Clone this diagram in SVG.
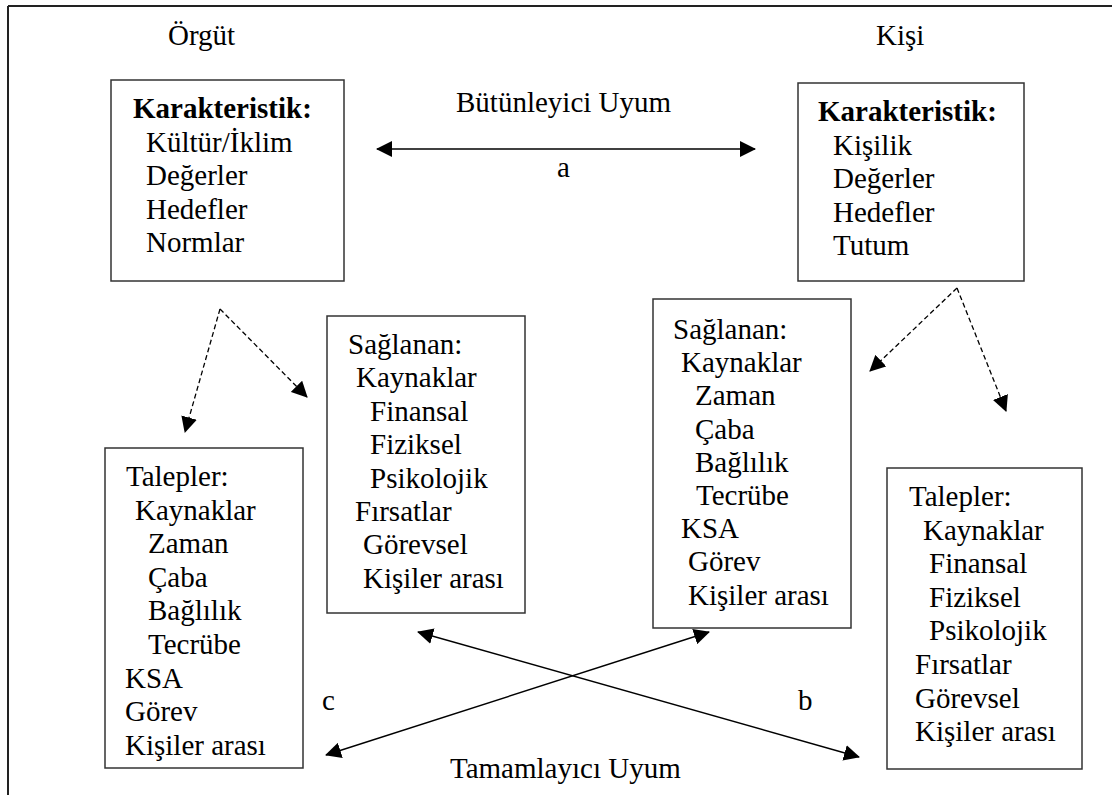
<svg xmlns="http://www.w3.org/2000/svg" width="1112" height="795" viewBox="0 0 1112 795" font-family="'Liberation Serif', 'Times New Roman', Tinos, 'DejaVu Serif', serif" font-size="29">
<style>
text{font-family:"Liberation Serif","Times New Roman",Tinos,"DejaVu Serif",serif;font-size:29px;fill:#000}
.b{font-weight:bold}
.box{fill:#fff;stroke:#333;stroke-width:1.5}
.ln{stroke:#000;stroke-width:1.4;fill:none}
.dash{stroke:#000;stroke-width:1.3;fill:none;stroke-dasharray:5 3}
</style>
<defs>
<marker id="ah" viewBox="0 0 16 16" refX="15" refY="8" markerWidth="16" markerHeight="16" markerUnits="userSpaceOnUse" orient="auto-start-reverse">
<path d="M0,0 L16,8 L0,16 z" fill="#000"/>
</marker>
</defs>
<g id="frame">
<line x1="8" y1="6" x2="1112" y2="6" stroke="#222" stroke-width="2"/>
<line x1="8" y1="6" x2="8" y2="795" stroke="#222" stroke-width="2"/>
</g>
<g id="labels">
<text x="168" y="45">Örgüt</text>
<text x="876" y="45">Kişi</text>
<text x="456" y="112">Bütünleyici Uyum</text>
<text x="557" y="177">a</text>
<text x="798" y="710">b</text>
<text x="322" y="710">c</text>
<text x="450" y="778">Tamamlayıcı Uyum</text>
</g>
<g id="org-karakteristik">
<rect class="box" x="111" y="80" width="233" height="201"/>
<text class="b" x="133" y="118">Karakteristik:</text>
<text x="146" y="151.5">Kültür/İklim</text>
<text x="146" y="185">Değerler</text>
<text x="146" y="218.5">Hedefler</text>
<text x="146" y="252">Normlar</text>
</g>
<g id="kisi-karakteristik">
<rect class="box" x="798" y="83" width="226" height="198"/>
<text class="b" x="818" y="121">Karakteristik:</text>
<text x="833" y="154.5">Kişilik</text>
<text x="833" y="188">Değerler</text>
<text x="833" y="221.5">Hedefler</text>
<text x="833" y="255">Tutum</text>
</g>
<g id="org-saglanan">
<rect class="box" x="327" y="316" width="198" height="297"/>
<text x="348" y="354">Sağlanan:</text>
<text x="356" y="387.4">Kaynaklar</text>
<text x="370" y="420.8">Finansal</text>
<text x="370" y="454.2">Fiziksel</text>
<text x="370" y="487.6">Psikolojik</text>
<text x="355" y="521">Fırsatlar</text>
<text x="363" y="554.4">Görevsel</text>
<text x="363" y="587.8">Kişiler arası</text>
</g>
<g id="kisi-saglanan">
<rect class="box" x="653" y="299" width="198" height="329"/>
<text x="673" y="339">Sağlanan:</text>
<text x="681" y="372.2">Kaynaklar</text>
<text x="695" y="405.4">Zaman</text>
<text x="695" y="438.6">Çaba</text>
<text x="695" y="471.8">Bağlılık</text>
<text x="696" y="505">Tecrübe</text>
<text x="681" y="538.2">KSA</text>
<text x="688" y="571.4">Görev</text>
<text x="688" y="604.6">Kişiler arası</text>
</g>
<g id="org-talepler">
<rect class="box" x="105" y="448" width="198" height="320"/>
<text x="126" y="486">Talepler:</text>
<text x="135" y="519.6">Kaynaklar</text>
<text x="148" y="553.2">Zaman</text>
<text x="148" y="586.8">Çaba</text>
<text x="148" y="620.4">Bağlılık</text>
<text x="148" y="654">Tecrübe</text>
<text x="125" y="687.6">KSA</text>
<text x="125" y="721.2">Görev</text>
<text x="125" y="754.8">Kişiler arası</text>
</g>
<g id="kisi-talepler">
<rect class="box" x="887" y="468" width="195" height="301"/>
<text x="909" y="506">Talepler:</text>
<text x="923" y="539.6">Kaynaklar</text>
<text x="929" y="573.2">Finansal</text>
<text x="929" y="606.8">Fiziksel</text>
<text x="929" y="640.4">Psikolojik</text>
<text x="915" y="674">Fırsatlar</text>
<text x="915" y="707.6">Görevsel</text>
<text x="915" y="741.2">Kişiler arası</text>
</g>
<g id="connectors">
<line class="ln" x1="377" y1="149" x2="755" y2="149" marker-start="url(#ah)" marker-end="url(#ah)"/>
<line class="dash" x1="220" y1="309" x2="185" y2="432" marker-end="url(#ah)"/>
<line class="dash" x1="220" y1="309" x2="307" y2="397" marker-end="url(#ah)"/>
<line class="dash" x1="957" y1="288" x2="870" y2="371" marker-end="url(#ah)"/>
<line class="dash" x1="957" y1="288" x2="1006" y2="411" marker-end="url(#ah)"/>
<line class="ln" x1="418" y1="632" x2="859" y2="757" marker-start="url(#ah)" marker-end="url(#ah)"/>
<line class="ln" x1="326" y1="755" x2="709" y2="632" marker-start="url(#ah)" marker-end="url(#ah)"/>
</g>
</svg>
